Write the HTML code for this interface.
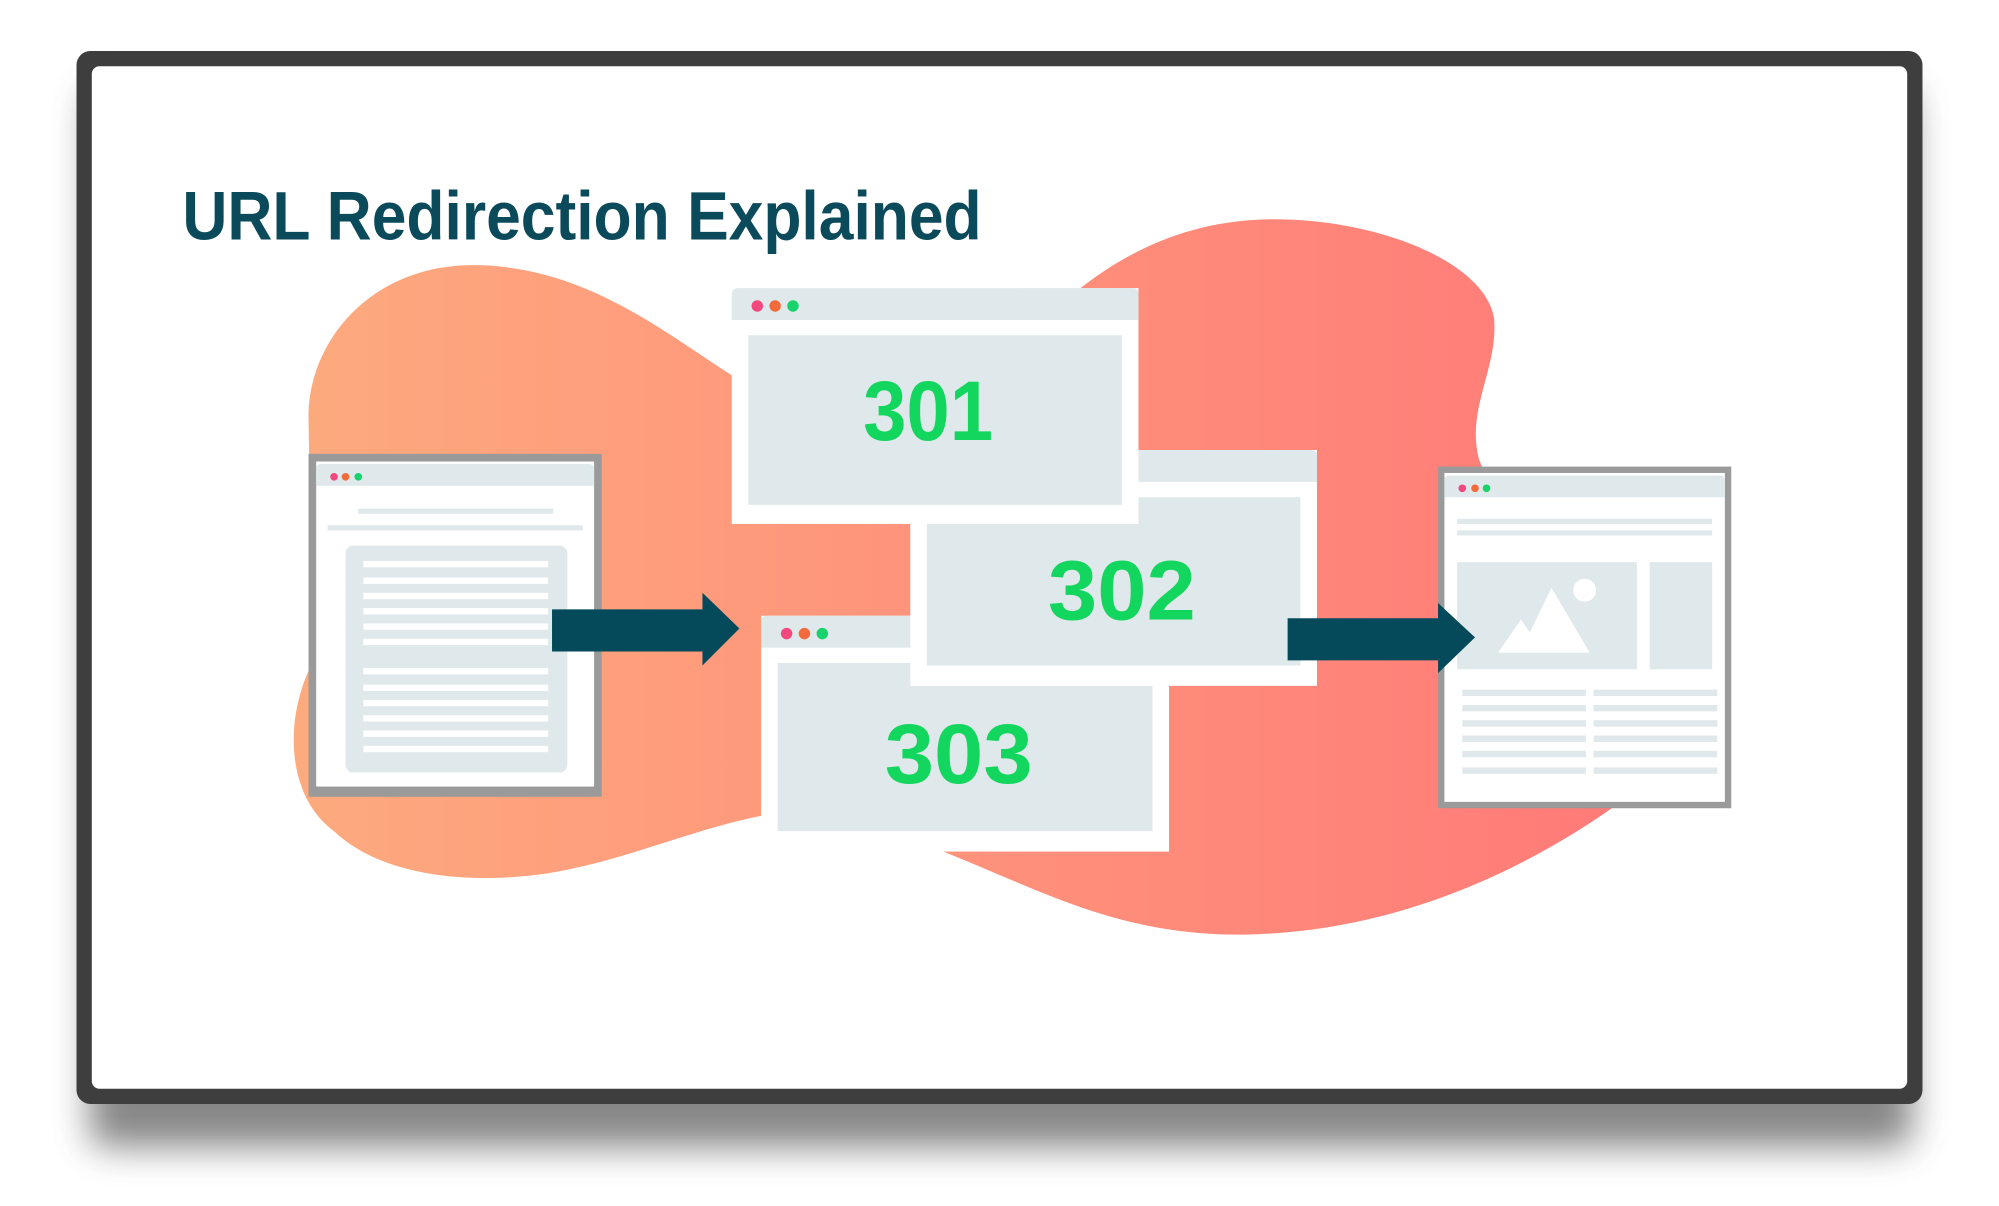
<!DOCTYPE html>
<html><head><meta charset="utf-8"><style>html,body{margin:0;padding:0;background:#fff}svg{display:block}</style></head>
<body>
<svg width="1999" height="1206" viewBox="0 0 1568 946" xmlns="http://www.w3.org/2000/svg">
<defs>
<filter id="sh" x="-10%" y="-10%" width="120%" height="130%"><feGaussianBlur stdDeviation="14"/></filter>
<linearGradient id="g" x1="230" y1="0" x2="1280" y2="0" gradientUnits="userSpaceOnUse">
<stop offset="0" stop-color="#fdaa7e"/><stop offset="1" stop-color="#ff7a78"/></linearGradient>
</defs>
<rect x="70" y="70" width="1430" height="830" rx="14" fill="#555" opacity="0.7" filter="url(#sh)"/>
<rect x="60" y="40" width="1448" height="826" rx="11" fill="#3e3e3e"/>
<rect x="72" y="52" width="1424" height="802" rx="6" fill="#fff"/>
<text x="143" y="188" font-family="Liberation Sans, sans-serif" font-weight="bold" font-size="54" fill="#0a4a5a" textLength="627" lengthAdjust="spacingAndGlyphs">URL Redirection Explained</text>
<path d="M575 295 C520 260 460 210 375 208 C290 206 240 270 242 330 L245 520 C222 565 225 625 262 652 C300 688 370 694 430 685 C490 675 545 650 597 640 L740 668 C820 700 880 735 980 733 C1100 730 1200 680 1270 630 L1160 360 C1150 320 1175 290 1172 250 C1165 205 1080 172 1000 172 C930 172 880 200 845 228 Z" fill="url(#g)"/>
<!-- left browser -->
<rect x="242" y="356" width="230" height="269" fill="#9a9a9a"/>
<rect x="248" y="362" width="218" height="255" fill="#fff"/>
<path d="M248 381 V368 Q248 364 252 364 H462 Q466 364 466 368 V381 Z" fill="#dfe8ea"/>
<circle cx="262" cy="374" r="3" fill="#f2487e"/><circle cx="271" cy="374" r="3" fill="#f26b3a"/><circle cx="281" cy="374" r="3" fill="#18d36b"/>
<rect x="281" y="399" width="153" height="4" fill="#dfe8ea"/><rect x="257" y="412" width="200" height="4" fill="#dfe8ea"/>
<rect x="271" y="428" width="174" height="178" rx="6" fill="#dfe8ea"/>
<g fill="#fff"><rect x="285" y="440" width="145" height="5"/><rect x="285" y="453" width="145" height="5"/><rect x="285" y="465" width="145" height="5"/><rect x="285" y="477" width="145" height="5"/><rect x="285" y="489" width="145" height="5"/><rect x="285" y="501" width="145" height="5"/><rect x="285" y="524" width="145" height="5"/><rect x="285" y="537" width="145" height="5"/><rect x="285" y="549" width="145" height="5"/><rect x="285" y="561" width="145" height="5"/><rect x="285" y="573" width="145" height="5"/><rect x="285" y="585" width="145" height="5"/></g>
<!-- arrow1 -->
<path d="M433 478 H551 V465 L580 493 L551 522 V511 H433 Z" fill="#044a5a"/>
<!-- 303 -->
<rect x="597" y="483" width="320" height="185" fill="#fff"/>
<path d="M597 508 V488 Q597 483 602 483 H912 Q917 483 917 488 V508 Z" fill="#dfe8ea"/>
<circle cx="617" cy="497" r="4.5" fill="#f2487e"/><circle cx="631" cy="497" r="4.5" fill="#f26b3a"/><circle cx="645" cy="497" r="4.5" fill="#18d36b"/>
<rect x="610" y="520" width="294" height="132" fill="#dfe8ea"/>
<text x="752" y="614" text-anchor="middle" font-family="Liberation Sans, sans-serif" font-weight="bold" font-size="66" fill="#12d65e" textLength="116" lengthAdjust="spacingAndGlyphs">303</text>
<!-- 302 -->
<rect x="714" y="353" width="319" height="185" fill="#fff"/>
<path d="M714 378 V358 Q714 353 719 353 H1028 Q1033 353 1033 358 V378 Z" fill="#dfe8ea"/>
<rect x="727" y="390" width="293" height="132" fill="#dfe8ea"/>
<text x="880" y="486" text-anchor="middle" font-family="Liberation Sans, sans-serif" font-weight="bold" font-size="66" fill="#12d65e" textLength="116" lengthAdjust="spacingAndGlyphs">302</text>
<!-- 301 -->
<rect x="574" y="226" width="319" height="185" fill="#fff"/>
<path d="M574 251 V231 Q574 226 579 226 H888 Q893 226 893 231 V251 Z" fill="#dfe8ea"/>
<circle cx="594" cy="240" r="4.5" fill="#f2487e"/><circle cx="608" cy="240" r="4.5" fill="#f26b3a"/><circle cx="622" cy="240" r="4.5" fill="#18d36b"/>
<rect x="587" y="263" width="293" height="133" fill="#dfe8ea"/>
<text x="728" y="345" text-anchor="middle" font-family="Liberation Sans, sans-serif" font-weight="bold" font-size="66" fill="#12d65e" textLength="102" lengthAdjust="spacingAndGlyphs">301</text>
<!-- right browser -->
<rect x="1128" y="366" width="230" height="268" fill="#9a9a9a"/>
<rect x="1133" y="371" width="220" height="258" fill="#fff"/>
<path d="M1133 390 V377 Q1133 373 1137 373 H1349 Q1353 373 1353 377 V390 Z" fill="#dfe8ea"/>
<circle cx="1147" cy="383" r="3" fill="#f2487e"/><circle cx="1157" cy="383" r="3" fill="#f26b3a"/><circle cx="1166" cy="383" r="3" fill="#18d36b"/>
<rect x="1143" y="407" width="200" height="4" fill="#dfe8ea"/><rect x="1143" y="416" width="200" height="4" fill="#dfe8ea"/>
<rect x="1143" y="441" width="141" height="84" fill="#dfe8ea"/><rect x="1294" y="441" width="49" height="84" fill="#dfe8ea"/>
<path d="M1175 512 L1193 486 L1200 496 L1217 461 L1247 512 Z" fill="#fff"/>
<circle cx="1243" cy="463" r="9" fill="#fff"/>
<g fill="#dfe8ea"><rect x="1147" y="541" width="97" height="5"/><rect x="1147" y="553" width="97" height="5"/><rect x="1147" y="565" width="97" height="5"/><rect x="1147" y="577" width="97" height="5"/><rect x="1147" y="589" width="97" height="5"/><rect x="1147" y="602" width="97" height="5"/>
<rect x="1250" y="541" width="97" height="5"/><rect x="1250" y="553" width="97" height="5"/><rect x="1250" y="565" width="97" height="5"/><rect x="1250" y="577" width="97" height="5"/><rect x="1250" y="589" width="97" height="5"/><rect x="1250" y="602" width="97" height="5"/></g>
<!-- arrow2 -->
<path d="M1010 485 H1128 V473 L1157 500 L1128 528 V518 H1010 Z" fill="#044a5a"/>
</svg>
</body></html>
